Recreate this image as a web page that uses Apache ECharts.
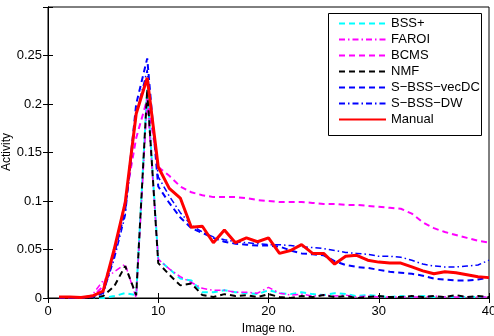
<!DOCTYPE html>
<html>
<head>
<meta charset="utf-8">
<script src="https://cdn.jsdelivr.net/npm/echarts@6/dist/echarts.min.js"></script>
<style>
html,body{margin:0;padding:0;background:#fff;}
#chart{width:494px;height:336px;}
</style>
</head>
<body>
<div id="chart"></div>
<script>
// image numbers 1..40
var imageNo = [1,2,3,4,5,6,7,8,9,10,11,12,13,14,15,16,17,18,19,20,21,22,23,24,25,26,27,28,29,30,31,32,33,34,35,36,37,38,39,40];
var seriesNames = ['BSS+', 'FAROI', 'BCMS', 'NMF', 'S\u2212BSS\u2212vecDC', 'S\u2212BSS\u2212DW', 'Manual'];

var bssPlus = [0,0,0,0,0,0.002,0.005,0.003,0.215,0.040,0.030,0.020,0.018,0.006,0.006,0.008,0.006,0.005,0.004,0.008,0.005,0.004,0.006,0.004,0.003,0.005,0.004,0.002,0.003,0.002,0.001,0.002,0.001,0.002,0.001,0.001,0.001,0.001,0.001,0.001];
var faroi = [0,0,0,0.003,0.018,0.027,0.035,0.0,0.205,0.040,0.030,0.022,0.016,0.010,0.008,0.008,0.006,0.006,0.005,0.011,0.005,0.003,0.004,0.002,0.003,0.002,0.003,0.001,0.002,0.001,0.001,0.001,0.001,0.001,0.002,0.001,0.001,0.001,0.001,0.001];
var bcms = [0,0,0,0.001,0.012,0.045,0.100,0.165,0.205,0.135,0.126,0.115,0.109,0.106,0.104,0.104,0.104,0.103,0.101,0.100,0.099,0.099,0.099,0.098,0.097,0.097,0.096,0.096,0.095,0.094,0.093,0.092,0.087,0.078,0.072,0.068,0.065,0.062,0.059,0.057];
var nmf = [0,0,0,0,0.002,0.012,0.033,0.003,0.215,0.036,0.024,0.013,0.015,0.003,0.001,0.004,0.002,0.003,0.001,0.004,0.001,0.0,0.002,0.001,0.003,0.001,0.002,0.0,0.001,0.002,0.001,0.001,0.002,0.001,0.002,0.001,0.003,0.001,0.002,0.001];
var vecDC = [0,0,0,0.001,0.005,0.045,0.090,0.200,0.247,0.115,0.098,0.083,0.072,0.067,0.062,0.058,0.056,0.055,0.054,0.054,0.053,0.049,0.046,0.045,0.044,0.038,0.034,0.032,0.031,0.029,0.027,0.026,0.025,0.023,0.020,0.019,0.018,0.018,0.019,0.021];
var dw = [0,0,0,0.001,0.005,0.040,0.085,0.190,0.235,0.125,0.105,0.088,0.075,0.068,0.063,0.060,0.058,0.057,0.056,0.055,0.055,0.054,0.053,0.052,0.051,0.049,0.047,0.046,0.045,0.043,0.043,0.042,0.039,0.035,0.033,0.032,0.032,0.033,0.034,0.039];
var manual = [0.001,0.001,0.0005,0.002,0.007,0.050,0.098,0.190,0.227,0.135,0.113,0.103,0.073,0.074,0.057,0.070,0.057,0.062,0.058,0.062,0.046,0.049,0.055,0.046,0.046,0.035,0.043,0.044,0.039,0.037,0.036,0.036,0.032,0.028,0.025,0.027,0.026,0.024,0.022,0.021];

var xTicks = [0, 10, 20, 30, 40];
var yTickLabels = ['0', '0.05', '0.1', '0.15', '0.2', '0.25'];

var FONT = 'Liberation Sans';
var DASH = [6, 4];
var DASHDOT = [6, 3, 1.5, 3];

function pairs(vals){
	var out = [];
	for (var i = 0; i < imageNo.length; i++) {
		out.push([imageNo[i], vals[i]]);
	}
	return out;
}

function lineSeries(name, vals, color, type, width){
	return {
		name: name,
		type: 'line',
		xAxisIndex: 0,
		yAxisIndex: 0,
		symbol: 'none',
		animation: false,
		lineStyle: {color: color, width: width, type: type},
		itemStyle: {color: color},
		data: pairs(vals)
	};
}

var option = {
	backgroundColor: '#fff',
	animation: false,
	grid: {left: 48, right: 5, top: 7, bottom: 38, containLabel: false, outerBoundsMode: 'none',
		show: true, borderColor: '#000', borderWidth: 1},
	xAxis: [
		{
			type: 'value', min: 0, max: 40, interval: 10, position: 'bottom',
			name: 'Image no.', nameLocation: 'middle', nameGap: 22,
			nameTextStyle: {color: '#000', fontFamily: FONT, fontSize: 12},
			axisLine: {show: true, lineStyle: {color: '#000', width: 1}},
			axisTick: {show: true, inside: true, length: 5, lineStyle: {color: '#000'}},
			axisLabel: {show: true, color: '#000', fontFamily: FONT, fontSize: 13, margin: 7,
				formatter: function(v){ return xTicks.indexOf(v) >= 0 ? String(v) : ''; }},
			splitLine: {show: false}
		},
		{
			type: 'value', min: 0, max: 40, interval: 10, position: 'top',
			axisLine: {show: true, lineStyle: {color: '#000', width: 1}},
			axisTick: {show: true, inside: true, length: 5, lineStyle: {color: '#000'}},
			axisLabel: {show: false},
			splitLine: {show: false}
		}
	],
	yAxis: [
		{
			type: 'value', min: 0, max: 0.3, interval: 0.05, position: 'left',
			axisLine: {show: true, lineStyle: {color: '#000', width: 1}},
			axisTick: {show: true, inside: true, length: 5, lineStyle: {color: '#000'}},
			axisLabel: {show: true, color: '#000', fontFamily: FONT, fontSize: 13, margin: 6,
				formatter: function(v){
					var k = Math.round(v / 0.05);
					return k < yTickLabels.length ? yTickLabels[k] : '';
				}},
			splitLine: {show: false}
		},
		{
			type: 'value', min: 0, max: 0.3, interval: 0.05, position: 'right',
			axisLine: {show: true, lineStyle: {color: '#000', width: 1}},
			axisTick: {show: true, inside: true, length: 5, lineStyle: {color: '#000'}},
			axisLabel: {show: false},
			splitLine: {show: false}
		}
	],
	legend: {
		orient: 'vertical',
		left: 328, top: 13,
		padding: [4, 6, 4, 10],
		itemWidth: 47, itemHeight: 14, itemGap: 3,
		itemStyle: {opacity: 0, borderWidth: 0},
		textStyle: {color: '#000', fontFamily: FONT, fontSize: 13},
		data: seriesNames
	},
	graphic: [
		{type: 'rect', z: 0, zlevel: 0, shape: {x: 328.5, y: 13.5, width: 153, height: 122},
			style: {fill: '#fff', stroke: '#000', lineWidth: 1}},
		// y axis title
		{type: 'text', x: 7, y: 152, rotation: Math.PI / 2,
			style: {text: 'Activity', fill: '#000', font: '12px "Liberation Sans"', align: 'center', verticalAlign: 'middle'}}
	],
	series: [
		lineSeries(seriesNames[0], bssPlus, '#00ffff', DASH, 2),
		lineSeries(seriesNames[1], faroi, '#ff00ff', DASHDOT, 1.5),
		lineSeries(seriesNames[2], bcms, '#ff00ff', DASH, 2),
		lineSeries(seriesNames[3], nmf, '#000000', DASH, 2),
		lineSeries(seriesNames[4], vecDC, '#0000ff', DASH, 2),
		lineSeries(seriesNames[5], dw, '#0000ff', DASHDOT, 1.5),
		lineSeries(seriesNames[6], manual, '#ff0000', 'solid', 3)
	]
};

var myChart = echarts.init(document.getElementById('chart'), null, {renderer: 'canvas'});
myChart.setOption(option);//加载图表
</script>
</body>
</html>
